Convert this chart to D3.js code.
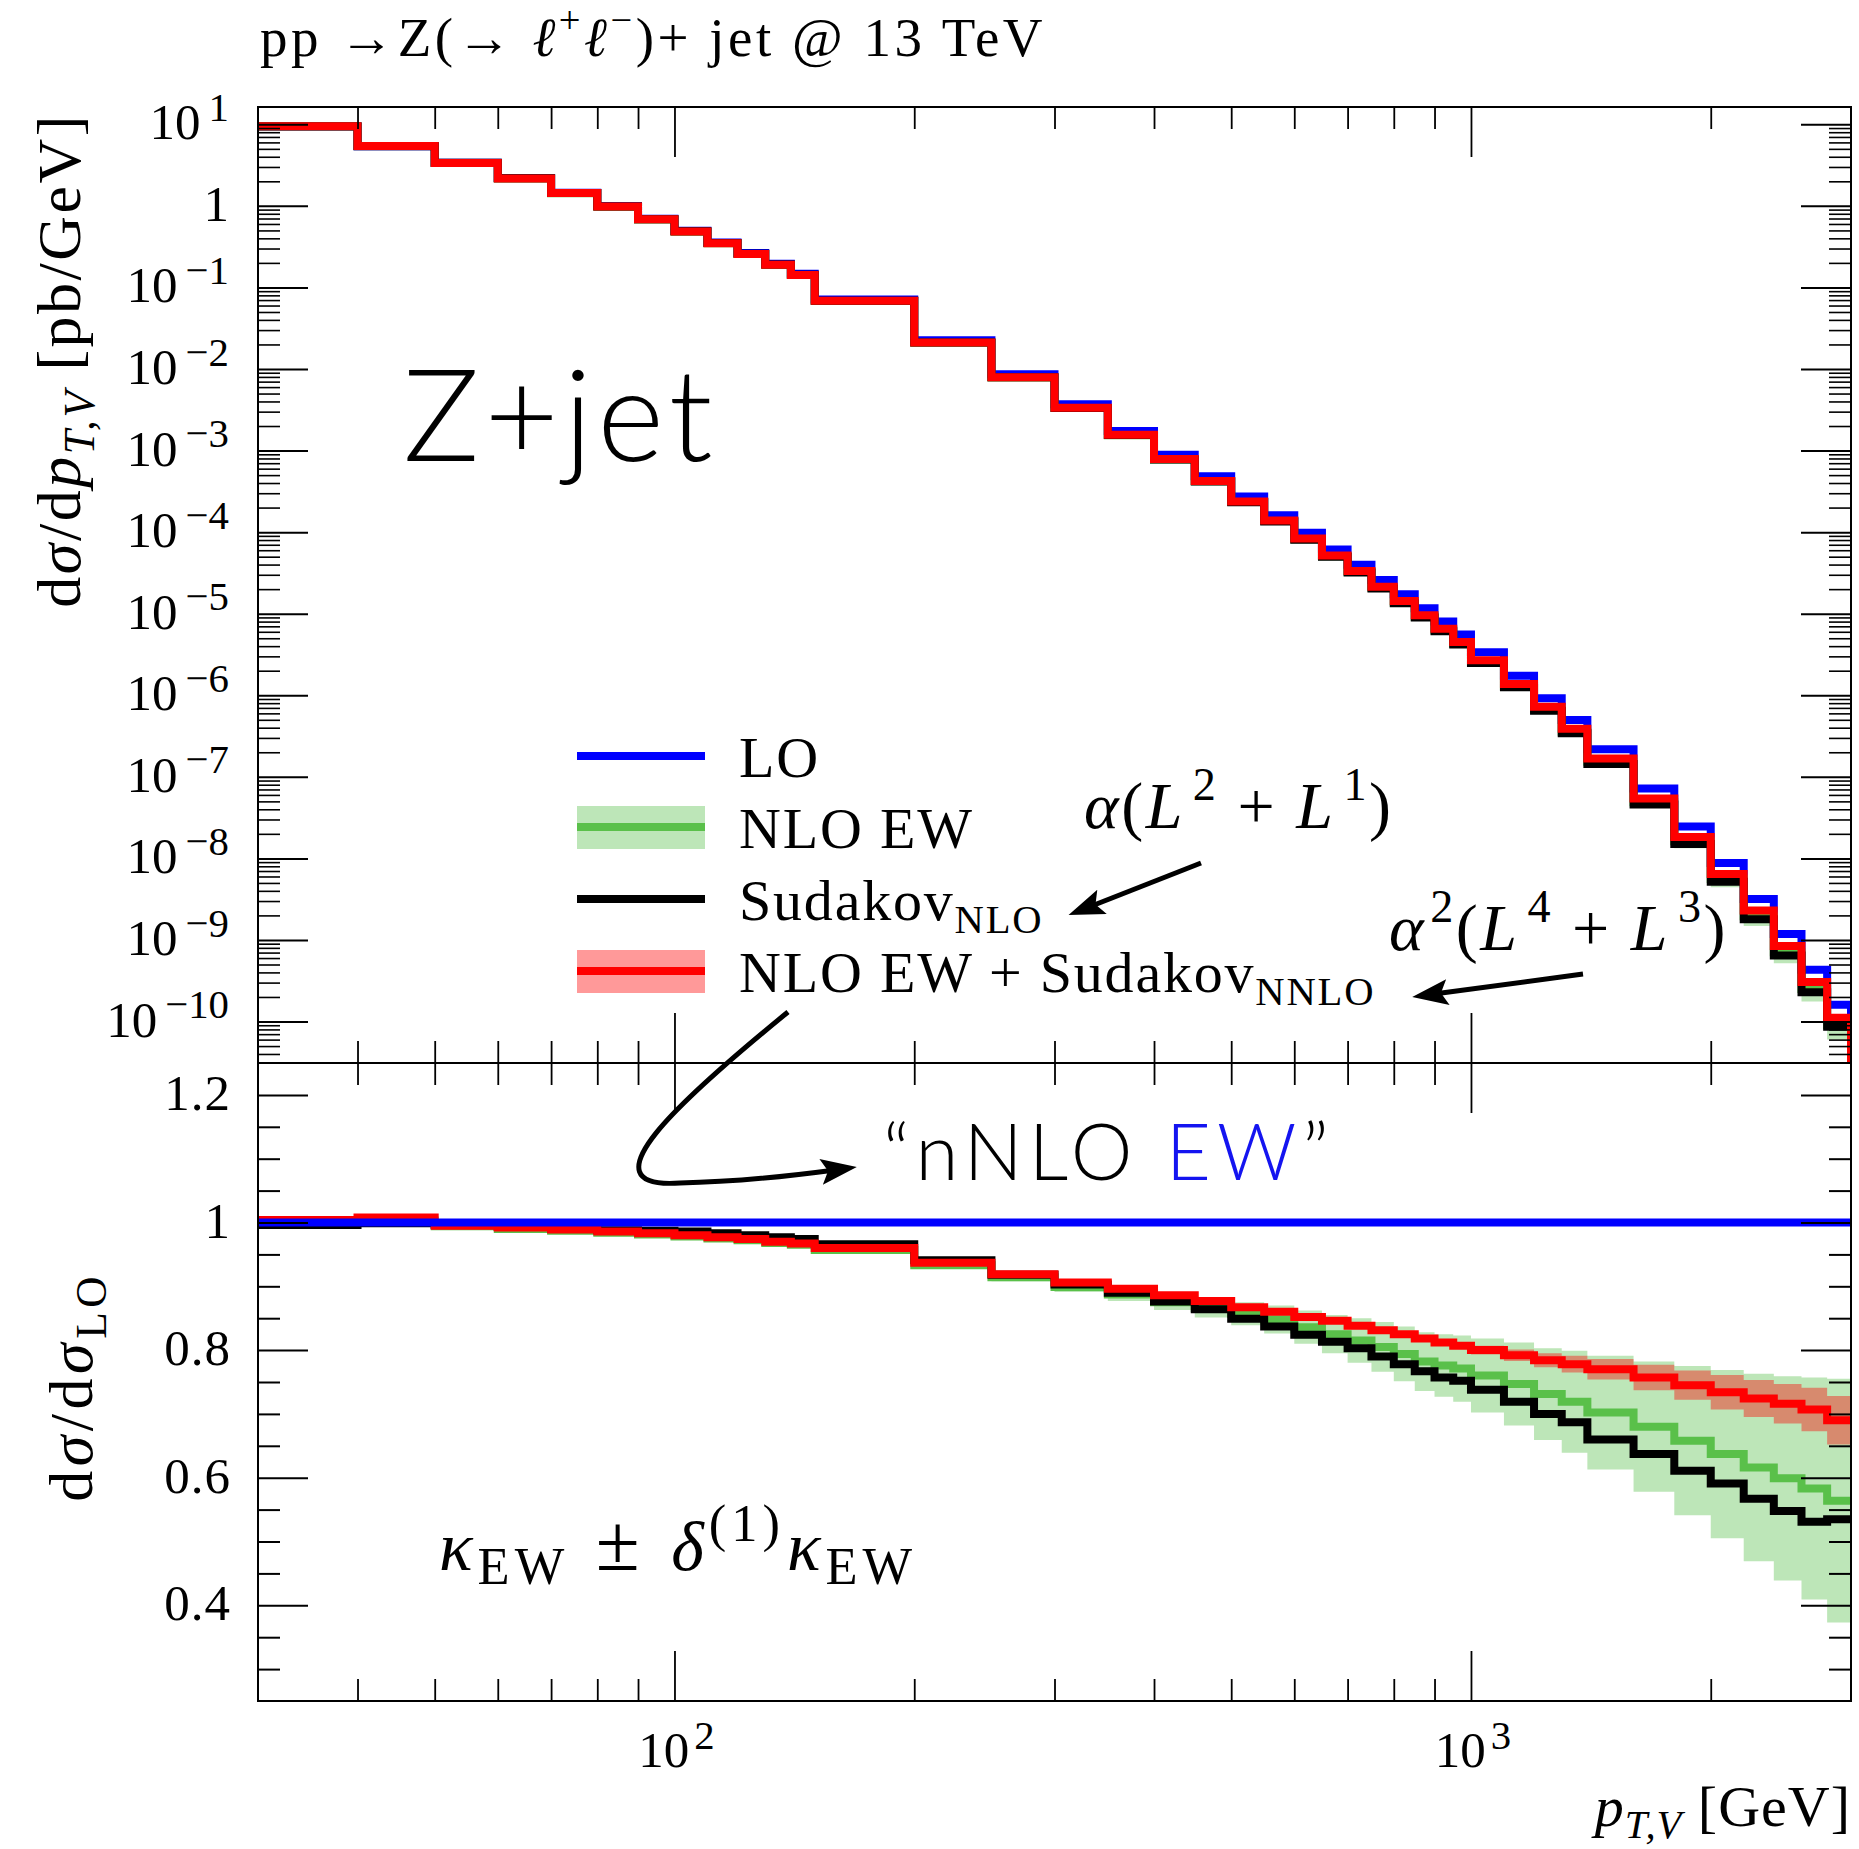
<!DOCTYPE html>
<html>
<head>
<meta charset="utf-8">
<script src="https://cdn.jsdelivr.net/npm/d3@7"></script>
<style>
  body { margin: 0; background: #fff; }
  svg text { font-family: "Liberation Serif", "DejaVu Serif", serif; fill: #000; }
  .sans { font-family: Lato, "Noto Sans", sans-serif; }
</style>
</head>
<body>
<svg id="chart" width="1859" height="1849"></svg>
<script>
// bin edges of p_T,V [GeV]
const binEdges = [30, 40, 50, 60, 70, 80, 90, 100, 110, 120, 130, 140, 150,
  200, 250, 300, 350, 400, 450, 500, 550, 600, 650, 700, 750, 800, 850, 900, 950, 1000,
  1100, 1200, 1300, 1400, 1600, 1800, 2000, 2200, 2400, 2600, 2800, 3000];

// LO dsigma/dpT [pb/GeV]
const loXsec = [9.44, 5.39, 3.38, 2.19, 1.45, 0.994, 0.696, 0.494, 0.356, 0.264, 0.195, 0.147,
  0.0713, 0.0225, 0.00861, 0.00369, 0.00174, 8.9e-4, 4.84e-4, 2.73e-4, 1.61e-4, 9.8e-5,
  6.13e-5, 3.98e-5, 2.58e-5, 1.73e-5, 1.17e-5, 8.05e-6, 5.57e-6,
  3.36e-6, 1.74e-6, 9.2e-7, 4.98e-7,
  2.18e-7, 7.18e-8, 2.46e-8, 8.75e-9, 3.17e-9, 1.18e-9, 4.31e-10, 1.61e-10];

// ratios to LO
const ratioNloEW = [1.000, 1.003, 0.994, 0.990, 0.987, 0.984, 0.981, 0.978, 0.975, 0.972, 0.968, 0.965,
  0.957, 0.933, 0.914, 0.899, 0.887, 0.875, 0.866, 0.857, 0.848, 0.836, 0.825, 0.815, 0.805,
  0.794, 0.782, 0.776, 0.771,
  0.760, 0.747, 0.731, 0.719,
  0.702, 0.680, 0.658, 0.637, 0.616, 0.599, 0.583, 0.564];
const errNloEW = [0.001, 0.001, 0.001, 0.001, 0.001, 0.001, 0.002, 0.002, 0.002, 0.002, 0.002, 0.002,
  0.004, 0.005, 0.006, 0.008, 0.010, 0.012, 0.015, 0.018, 0.022, 0.026, 0.030, 0.035, 0.039,
  0.043, 0.046, 0.049, 0.052,
  0.058, 0.065, 0.072, 0.080,
  0.089, 0.102, 0.117, 0.132, 0.147, 0.160, 0.174, 0.191];
const ratioSudNLO = [0.996, 0.999, 0.996, 0.993, 0.990, 0.988, 0.987, 0.986, 0.983, 0.980, 0.977, 0.974,
  0.966, 0.941, 0.918, 0.903, 0.890, 0.876, 0.864, 0.849, 0.837, 0.824, 0.813, 0.803, 0.790,
  0.778, 0.767, 0.757, 0.752,
  0.738, 0.719, 0.700, 0.687,
  0.660, 0.637, 0.611, 0.591, 0.567, 0.548, 0.531, 0.535];
const ratioNnlo = [1.004, 1.008, 0.995, 0.992, 0.989, 0.986, 0.983, 0.980, 0.977, 0.974, 0.970, 0.967,
  0.960, 0.937, 0.919, 0.906, 0.896, 0.886, 0.877, 0.867, 0.860, 0.852, 0.846, 0.838, 0.831,
  0.825, 0.818, 0.812, 0.807,
  0.800, 0.792, 0.784, 0.778,
  0.770, 0.757, 0.745, 0.734, 0.724, 0.716, 0.707, 0.690];
const errNnlo = [0.001, 0.001, 0.001, 0.001, 0.001, 0.001, 0.001, 0.001, 0.001, 0.001, 0.001, 0.001,
  0.001, 0.001, 0.001, 0.001, 0.001, 0.001, 0.001, 0.001, 0.001, 0.001, 0.002, 0.002, 0.003,
  0.003, 0.004, 0.005, 0.005,
  0.007, 0.009, 0.011, 0.013,
  0.016, 0.020, 0.023, 0.027, 0.029, 0.031, 0.034, 0.038];

// axis ticks
const topExponents = [1, 0, -1, -2, -3, -4, -5, -6, -7, -8, -9, -10];
const ratioTickLabels = [0.4, 0.6, 0.8, 1, 1.2];
const xMajor = [100, 1000];
const xMinor = [40, 50, 60, 70, 80, 90, 200, 300, 400, 500, 600, 700, 800, 900, 2000];
const logMinorDigits = [2, 3, 4, 5, 6, 7, 8, 9];

const legendLabels = ["LO", "NLO EW", "Sudakov", "NLO EW + Sudakov"];

const colBlue = "#0000ff", colRed = "#ff0000", colGreen = "#5ac04a";
const colGreenBand = "#bde6b8", colRedBand = "rgba(255,0,0,0.4)";

(function () {
  "use strict";

  const svg = d3.select("#chart");
  const L = 258, R = 1851, T = 107, M = 1063, B = 1701;

  const x = d3.scaleLog().domain([30, 3000]).range([L, R]);
  const yTop = d3.scaleLog().domain([3.1e-11, 16.3]).range([M, T]);
  const yRat = d3.scaleLinear().domain([0.25, 1.25]).range([B, M]);

  // rich text: segments with sup/sub/italic
  function rich(sel, segs, fs, opt) {
    const o = Object.assign({ supK: 0.7, supUp: 0.42, subDown: 0.22 }, opt || {});
    let shift = 0;
    segs.forEach((s) => {
      const target = s.sup ? -o.supUp * fs : s.sub ? o.subDown * fs : 0;
      const ts = sel.append("tspan").text(s.t).attr("dy", target - shift);
      shift = target;
      if (s.sup || s.sub) ts.attr("font-size", fs * o.supK);
      if (s.size) ts.attr("font-size", s.size);
      if (s.it) ts.attr("font-style", "italic");
      if (s.fill) ts.attr("fill", s.fill);
      if (s.dx) ts.attr("dx", s.dx);
    });
    return sel;
  }

  const defs = svg.append("defs");
  defs.append("clipPath").attr("id", "clipTop")
    .append("rect").attr("x", L).attr("y", T).attr("width", R - L).attr("height", M - T);
  defs.append("clipPath").attr("id", "clipRat")
    .append("rect").attr("x", L).attr("y", M).attr("width", R - L).attr("height", B - M);
  defs.append("marker").attr("id", "head")
    .attr("markerUnits", "userSpaceOnUse")
    .attr("markerWidth", 40).attr("markerHeight", 30)
    .attr("refX", 14).attr("refY", 13).attr("orient", "auto")
    .append("path").attr("d", "M0,0 L36,13 L0,26 L7,13 Z").attr("fill", "#000");

  const n = loXsec.length;
  const last = binEdges[n];

  // histogram helpers
  const stepPts = (vals) => vals.map((v, i) => [binEdges[i], v]).concat([[last, vals[n - 1]]]);
  const bandPts = (c, e) => c.map((v, i) => [binEdges[i], v - e[i], v + e[i]])
    .concat([[last, c[n - 1] - e[n - 1], c[n - 1] + e[n - 1]]]);

  // ---------------- top panel ----------------
  const gTop = svg.append("g").attr("clip-path", "url(#clipTop)");
  const lineTop = d3.line().x((d) => x(d[0])).y((d) => yTop(d[1])).curve(d3.curveStepAfter);
  const areaTop = d3.area().x((d) => x(d[0])).y0((d) => yTop(d[1])).y1((d) => yTop(d[2]))
    .curve(d3.curveStepAfter);

  const nloTop = loXsec.map((v, i) => v * ratioNloEW[i]);
  const sudTop = loXsec.map((v, i) => v * ratioSudNLO[i]);
  const nnloTop = loXsec.map((v, i) => v * ratioNnlo[i]);
  const bandTop = (r, e) => bandPts(r, e).map((d, i) => {
    const lo = loXsec[Math.min(i, n - 1)];
    return [d[0], lo * d[1], lo * d[2]];
  });

  gTop.append("path").attr("d", areaTop(bandTop(ratioNloEW, errNloEW))).attr("fill", colGreenBand);
  gTop.append("path").attr("d", areaTop(bandTop(ratioNnlo, errNnlo))).attr("fill", colRedBand);

  const dropTop = (vals) => stepPts(vals).concat([[last, yTop.domain()[0]]]);
  [[loXsec, colBlue], [nloTop, colGreen], [sudTop, "#000"], [nnloTop, colRed]].forEach(([v, c]) => {
    gTop.append("path").attr("d", lineTop(dropTop(v)))
      .attr("fill", "none").attr("stroke", c).attr("stroke-width", 8);
  });

  // ---------------- ratio panel ----------------
  const gRat = svg.append("g").attr("clip-path", "url(#clipRat)");
  const lineRat = d3.line().x((d) => x(d[0])).y((d) => yRat(d[1])).curve(d3.curveStepAfter);
  const areaRat = d3.area().x((d) => x(d[0])).y0((d) => yRat(d[1])).y1((d) => yRat(d[2]))
    .curve(d3.curveStepAfter);

  gRat.append("path").attr("d", areaRat(bandPts(ratioNloEW, errNloEW))).attr("fill", colGreenBand);
  gRat.append("path").attr("d", areaRat(bandPts(ratioNnlo, errNnlo))).attr("fill", colRedBand);
  const ratioLO = loXsec.map((v) => v / v);
  [[ratioNloEW, colGreen], [ratioSudNLO, "#000"], [ratioNnlo, colRed], [ratioLO, colBlue]].forEach(([v, c]) => {
    gRat.append("path").attr("d", lineRat(stepPts(v)))
      .attr("fill", "none").attr("stroke", c).attr("stroke-width", 8);
  });

  // ---------------- axes / ticks ----------------
  const tickG = (tr) => svg.append("g").attr("transform", tr);
  const styleAxis = (w) => (g) => {
    g.select(".domain").remove();
    g.selectAll("line").attr("stroke", "#000").attr("stroke-width", w);
  };

  const topMinor = [];
  d3.range(-11, 2).forEach((e) => logMinorDigits.forEach((d) => {
    const v = d * Math.pow(10, e);
    if (v > yTop.domain()[0] && v < yTop.domain()[1]) topMinor.push(v);
  }));
  const topMajor = topExponents.map((e) => Math.pow(10, e));
  const ratMajor = ratioTickLabels;
  const ratMinor = d3.range(0.3, 1.25, 0.05).filter((v) => !ratMajor.some((m) => Math.abs(m - v) < 1e-6));

  [[topMajor, 50, 2], [topMinor, 22, 1.6]].forEach(([vals, len, w]) => {
    tickG(`translate(${L},0)`).call(d3.axisLeft(yTop).tickValues(vals).tickSize(-len).tickSizeOuter(0).tickFormat("")).call(styleAxis(w));
    tickG(`translate(${R},0)`).call(d3.axisRight(yTop).tickValues(vals).tickSize(-len).tickSizeOuter(0).tickFormat("")).call(styleAxis(w));
  });
  [[ratMajor, 50, 2], [ratMinor, 22, 2]].forEach(([vals, len, w]) => {
    tickG(`translate(${L},0)`).call(d3.axisLeft(yRat).tickValues(vals).tickSize(-len).tickSizeOuter(0).tickFormat("")).call(styleAxis(w));
    tickG(`translate(${R},0)`).call(d3.axisRight(yRat).tickValues(vals).tickSize(-len).tickSizeOuter(0).tickFormat("")).call(styleAxis(w));
  });
  [[xMajor, 50], [xMinor, 22]].forEach(([vals, len]) => {
    tickG(`translate(0,${T})`).call(d3.axisTop(x).tickValues(vals).tickSize(-len).tickSizeOuter(0).tickFormat("")).call(styleAxis(1.8));
    tickG(`translate(0,${M})`).call(d3.axisBottom(x).tickValues(vals).tickSize(-len).tickSizeOuter(0).tickFormat("")).call(styleAxis(1.8));
    tickG(`translate(0,${M})`).call(d3.axisTop(x).tickValues(vals).tickSize(-len).tickSizeOuter(0).tickFormat("")).call(styleAxis(1.8));
    tickG(`translate(0,${B})`).call(d3.axisBottom(x).tickValues(vals).tickSize(-len).tickSizeOuter(0).tickFormat("")).call(styleAxis(1.8));
  });

  // frames
  svg.append("rect").attr("x", L).attr("y", T).attr("width", R - L).attr("height", B - T)
    .attr("fill", "none").attr("stroke", "#000").attr("stroke-width", 2);
  svg.append("line").attr("x1", L).attr("x2", R).attr("y1", M).attr("y2", M)
    .attr("stroke", "#000").attr("stroke-width", 2);

  // tick labels
  const FS = 51;
  const tickOpt = { supK: 0.8, supUp: 0.36 };
  topExponents.forEach((e) => {
    const t = svg.append("text").attr("x", 229).attr("y", yTop(Math.pow(10, e)) + 15)
      .attr("text-anchor", "end").attr("font-size", FS);
    if (e === 0) rich(t, [{ t: "1" }], FS);
    else rich(t, [{ t: "10" }, { t: e < 0 ? "\u2212" + (-e) : String(e), sup: true, dx: 8 }], FS, tickOpt);
  });
  ratioTickLabels.forEach((v) => {
    svg.append("text").attr("x", 231).attr("y", yRat(v) + 15)
      .attr("text-anchor", "end").attr("font-size", FS).attr("letter-spacing", 1).text(String(v));
  });
  xMajor.forEach((v) => {
    const t = svg.append("text").attr("x", x(v) + 2).attr("y", 1767)
      .attr("text-anchor", "middle").attr("font-size", FS);
    rich(t, [{ t: "10" }, { t: String(Math.round(Math.log10(v))), sup: true, dx: 5 }], FS, tickOpt);
  });

  // axis titles
  const yt = svg.append("text").attr("transform", "translate(80,113) rotate(-90)")
    .attr("text-anchor", "end").attr("font-size", 62).attr("letter-spacing", 2.5);
  rich(yt, [{ t: "d" }, { t: "\u03c3", it: true }, { t: "/d" }, { t: "p", it: true },
    { t: "T,V", it: true, sub: true }, { t: " [pb/GeV]" }], 62);
  const yb = svg.append("text").attr("transform", "translate(92,1272) rotate(-90)")
    .attr("text-anchor", "end").attr("font-size", 62).attr("letter-spacing", 4.5);
  rich(yb, [{ t: "d" }, { t: "\u03c3", it: true }, { t: "/d" }, { t: "\u03c3", it: true },
    { t: "LO", sub: true }], 62);
  const xt = svg.append("text").attr("x", 1851).attr("y", 1826)
    .attr("text-anchor", "end").attr("font-size", 58).attr("letter-spacing", 1);
  rich(xt, [{ t: "p", it: true }, { t: "T,V", it: true, sub: true }, { t: " [GeV]" }], 58, { subDown: 0.2 });

  // title
  const title = svg.append("text").attr("x", 260).attr("y", 56).attr("font-size", 55)
    .attr("letter-spacing", 3.5);
  rich(title, [{ t: "pp \u2192Z(\u2192 " }, { t: "\u2113", it: true }, { t: "+", sup: true },
    { t: "\u2113", it: true }, { t: "\u2212", sup: true }, { t: ")+ jet @ 13 TeV" }], 55);

  // big labels
  svg.append("text").attr("class", "sans").attr("x", 403).attr("y", 461)
    .attr("font-size", 128).attr("font-weight", 300).attr("letter-spacing", 5).text("Z+jet");
  const nn = svg.append("text").attr("class", "sans").attr("x", 883).attr("y", 1180)
    .attr("font-size", 78).attr("font-weight", 300).attr("letter-spacing", 6);
  rich(nn, [{ t: "\u201cnNLO " }, { t: "EW", fill: "#1414f0" }, { t: "\u201d" }], 78);

  // legend
  const legY = [756, 827, 899, 971];
  const lx0 = 577, lx1 = 705;
  svg.append("rect").attr("x", lx0).attr("y", legY[1] - 21).attr("width", lx1 - lx0).attr("height", 43).attr("fill", colGreenBand);
  svg.append("rect").attr("x", lx0).attr("y", legY[3] - 21).attr("width", lx1 - lx0).attr("height", 43).attr("fill", colRedBand);
  [colBlue, colGreen, "#000", colRed].forEach((c, i) => {
    svg.append("line").attr("x1", lx0).attr("x2", lx1).attr("y1", legY[i]).attr("y2", legY[i])
      .attr("stroke", c).attr("stroke-width", 8);
  });
  const LF = 58;
  legendLabels.forEach((lab, i) => {
    const t = svg.append("text").attr("x", 739).attr("y", legY[i] + 21).attr("font-size", LF)
      .attr("letter-spacing", 1.8);
    const segs = [{ t: lab }];
    if (i === 2) segs.push({ t: "NLO", sub: true });
    if (i === 3) segs.push({ t: "NNLO", sub: true });
    rich(t, segs, LF);
  });

  // annotations
  const MF = 66;
  const a1 = svg.append("text").attr("x", 1084).attr("y", 828).attr("font-size", MF).attr("letter-spacing", 2.5);
  rich(a1, [{ t: "\u03b1", it: true }, { t: "(" }, { t: "L", it: true }, { t: "2", sup: true, dx: 8 },
    { t: " + " }, { t: "L", it: true }, { t: "1", sup: true, dx: 8 }, { t: ")" }], MF);
  const a2 = svg.append("text").attr("x", 1389).attr("y", 950).attr("font-size", MF).attr("letter-spacing", 2.5);
  rich(a2, [{ t: "\u03b1", it: true }, { t: "2", sup: true, dx: 4 }, { t: "(" }, { t: "L", it: true },
    { t: "4", sup: true, dx: 8 }, { t: " + " }, { t: "L", it: true }, { t: "3", sup: true, dx: 8 }, { t: ")" }], MF);
  const kf = svg.append("text").attr("x", 439).attr("y", 1570).attr("font-size", 70).attr("letter-spacing", 5);
  rich(kf, [{ t: "\u03ba", it: true }, { t: "EW", sub: true }, { t: " ", dx: 4 }, { t: "\u00b1", size: 80 }, { t: " ", dx: 4 },
    { t: "\u03b4", it: true }, { t: "(1)", sup: true }, { t: "\u03ba", it: true, dx: 2 }, { t: "EW", sub: true }], 70,
    { supK: 0.75, subDown: 0.2 });

  // arrows
  const arrow = (d) => svg.append("path").attr("d", d).attr("fill", "none")
    .attr("stroke", "#000").attr("stroke-width", 5).attr("marker-end", "url(#head)");
  arrow("M1201,863 L1089,907");
  arrow("M1583,974 L1434,994");
  arrow("M788,1012 C680,1100 580,1190 680,1183 C740,1182 790,1176 835,1170");
})();
</script>
</body>
</html>
